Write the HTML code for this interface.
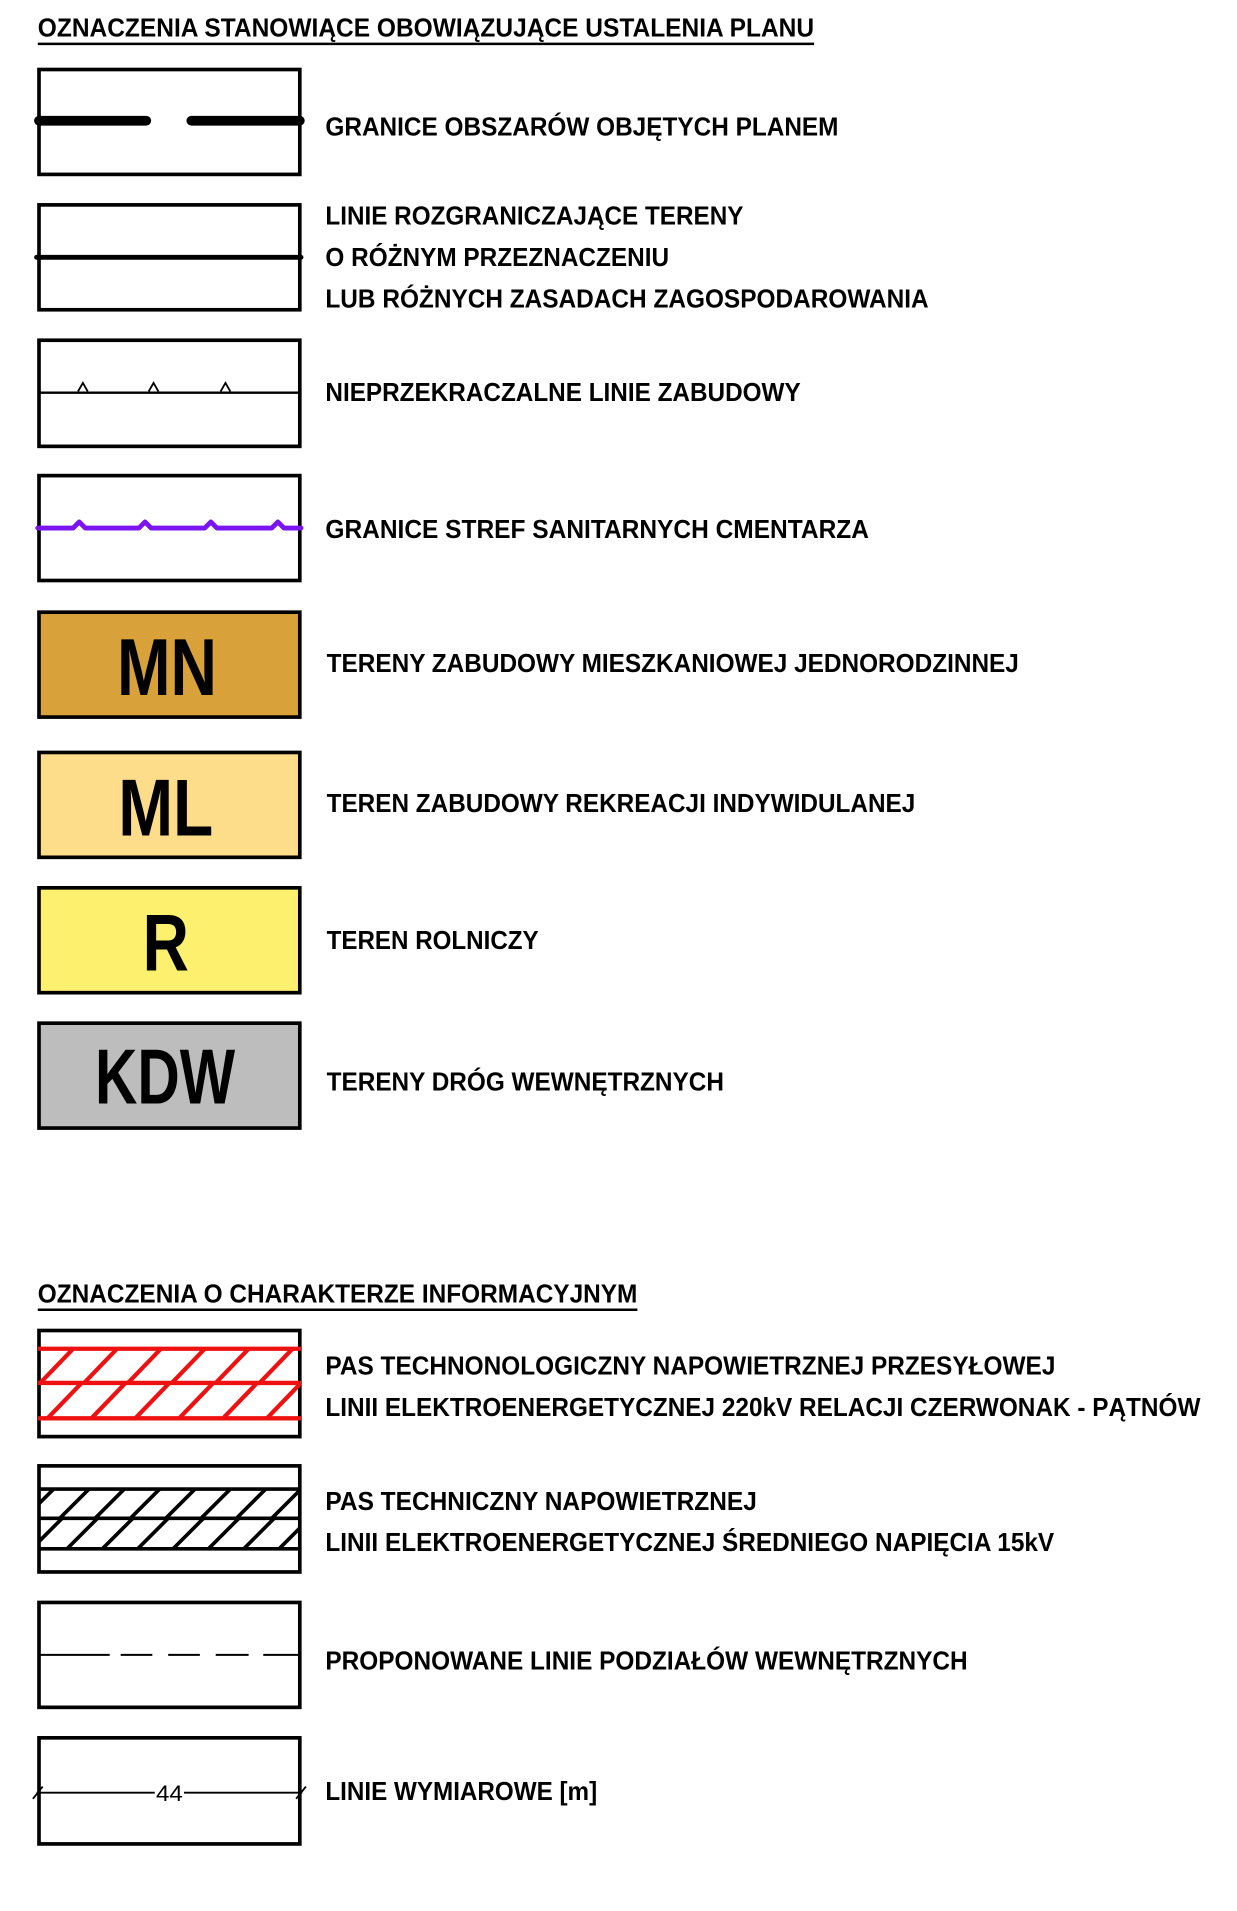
<!DOCTYPE html>
<html><head><meta charset="utf-8"><style>
html,body{margin:0;padding:0;background:#fff;}
svg{display:block;}
text{font-family:"Liberation Sans",sans-serif;font-weight:bold;fill:#000;}
</style></head><body>
<svg width="1237" height="1911" viewBox="0 0 1015 1567" preserveAspectRatio="none" xmlns="http://www.w3.org/2000/svg">
<defs>
<clipPath id="c1"><rect x="31" y="1091" width="216" height="87"/></clipPath>
<clipPath id="c2"><rect x="31" y="1202" width="216" height="87"/></clipPath>
</defs>
<g font-size="21">
<text x="31" y="30" textLength="637" lengthAdjust="spacingAndGlyphs">OZNACZENIA STANOWIĄCE OBOWIĄZUJĄCE USTALENIA PLANU</text>
<line x1="31" y1="36" x2="668" y2="36" stroke="#000" stroke-width="2"/>

<rect x="32" y="57" width="214" height="86" fill="#fff" stroke="#000" stroke-width="3"/>
<line x1="32" y1="99" x2="120" y2="99" stroke="#000" stroke-width="8" stroke-linecap="round"/>
<line x1="157" y1="99" x2="246" y2="99" stroke="#000" stroke-width="8" stroke-linecap="round"/>
<text x="267" y="111" textLength="421" lengthAdjust="spacingAndGlyphs">GRANICE OBSZARÓW OBJĘTYCH PLANEM</text>

<rect x="32" y="168" width="214" height="86" fill="#fff" stroke="#000" stroke-width="3"/>
<line x1="30" y1="211" x2="247" y2="211" stroke="#000" stroke-width="4" stroke-linecap="round"/>
<text x="267" y="184" textLength="343" lengthAdjust="spacingAndGlyphs">LINIE ROZGRANICZAJĄCE TERENY</text>
<text x="267" y="218" textLength="282" lengthAdjust="spacingAndGlyphs">O RÓŻNYM PRZEZNACZENIU</text>
<text x="267" y="252" textLength="495" lengthAdjust="spacingAndGlyphs">LUB RÓŻNYCH ZASADACH ZAGOSPODAROWANIA</text>

<rect x="32" y="279" width="214" height="87" fill="#fff" stroke="#000" stroke-width="3"/>
<line x1="32" y1="322" x2="246" y2="322" stroke="#000" stroke-width="2"/>
<path d="M64 321 L68 314 L72 321 M122 321 L126 314 L130 321 M181 321 L185 314 L189 321" fill="none" stroke="#000" stroke-width="1.5"/>
<text x="267" y="329" textLength="390" lengthAdjust="spacingAndGlyphs">NIEPRZEKRACZALNE LINIE ZABUDOWY</text>

<rect x="32" y="390" width="214" height="86" fill="#fff" stroke="#000" stroke-width="3"/>
<path d="M31 433 L60 433 L65 428 L70 433 L114 433 L119 428 L124 433 L168 433 L173 428 L178 433 L223 433 L228 428 L233 433 L247 433" fill="none" stroke="#7a14f0" stroke-width="4" stroke-linecap="round" stroke-linejoin="round"/>
<text x="267" y="441" textLength="446" lengthAdjust="spacingAndGlyphs">GRANICE STREF SANITARNYCH CMENTARZA</text>

<rect x="32" y="502" width="214" height="86" fill="#d9a13a" stroke="#000" stroke-width="3"/>
<text x="96" y="570" font-size="66" textLength="82" lengthAdjust="spacingAndGlyphs">MN</text>
<text x="268" y="551" textLength="568" lengthAdjust="spacingAndGlyphs">TERENY ZABUDOWY MIESZKANIOWEJ JEDNORODZINNEJ</text>

<rect x="32" y="617" width="214" height="86" fill="#fddc8a" stroke="#000" stroke-width="3"/>
<text x="97" y="685" font-size="66" textLength="78" lengthAdjust="spacingAndGlyphs">ML</text>
<text x="268" y="666" textLength="483" lengthAdjust="spacingAndGlyphs">TEREN ZABUDOWY REKREACJI INDYWIDULANEJ</text>

<rect x="32" y="728" width="214" height="86" fill="#fdf06e" stroke="#000" stroke-width="3"/>
<text x="117" y="796" font-size="66" textLength="38" lengthAdjust="spacingAndGlyphs">R</text>
<text x="268" y="778" textLength="174" lengthAdjust="spacingAndGlyphs">TEREN ROLNICZY</text>

<rect x="32" y="839" width="214" height="86" fill="#bdbdbd" stroke="#000" stroke-width="3"/>
<text x="78" y="905" font-size="64" textLength="115" lengthAdjust="spacingAndGlyphs">KDW</text>
<text x="268" y="894" textLength="326" lengthAdjust="spacingAndGlyphs">TERENY DRÓG WEWNĘTRZNYCH</text>

<text x="31" y="1068" textLength="492" lengthAdjust="spacingAndGlyphs">OZNACZENIA O CHARAKTERZE INFORMACYJNYM</text>
<line x1="31" y1="1074" x2="523" y2="1074" stroke="#000" stroke-width="2"/>

<rect x="32" y="1091" width="214" height="87" fill="#fff" stroke="#000" stroke-width="3"/>
<g clip-path="url(#c1)" stroke="#ee1111" stroke-width="3.5" fill="none">
<line x1="31" y1="1106" x2="247" y2="1106"/>
<line x1="31" y1="1134" x2="247" y2="1134"/>
<line x1="31" y1="1163" x2="247" y2="1163"/>
<path d="M33 1134 L60 1106 M69 1134 L96 1106 M105 1134 L132 1106 M141 1134 L168 1106 M177 1134 L204 1106 M213 1134 L240 1106
M39 1163 L67 1134 M75 1163 L103 1134 M111 1163 L139 1134 M147 1163 L175 1134 M183 1163 L211 1134 M219 1163 L247 1134"/>
</g>
<text x="267" y="1127" textLength="599" lengthAdjust="spacingAndGlyphs">PAS TECHNONOLOGICZNY NAPOWIETRZNEJ PRZESYŁOWEJ</text>
<text x="267" y="1161" textLength="718" lengthAdjust="spacingAndGlyphs">LINII ELEKTROENERGETYCZNEJ 220kV RELACJI CZERWONAK - PĄTNÓW</text>

<rect x="32" y="1202" width="214" height="87" fill="#fff" stroke="#000" stroke-width="3"/>
<g clip-path="url(#c2)" stroke="#000" stroke-width="3" fill="none">
<line x1="31" y1="1221" x2="247" y2="1221"/>
<line x1="31" y1="1245" x2="247" y2="1245"/>
<line x1="31" y1="1270" x2="247" y2="1270"/>
<path d="M20 1245 L44 1221 M49 1245 L73 1221 M78 1245 L102 1221 M107 1245 L131 1221 M136 1245 L160 1221 M165 1245 L189 1221 M194 1245 L218 1221 M223 1245 L247 1221
M26 1270 L51 1245 M55 1270 L80 1245 M84 1270 L109 1245 M113 1270 L138 1245 M142 1270 L167 1245 M171 1270 L196 1245 M200 1270 L225 1245 M229 1270 L254 1245"/>
</g>
<text x="267" y="1238" textLength="354" lengthAdjust="spacingAndGlyphs">PAS TECHNICZNY NAPOWIETRZNEJ</text>
<text x="267" y="1272" textLength="598" lengthAdjust="spacingAndGlyphs">LINII ELEKTROENERGETYCZNEJ ŚREDNIEGO NAPIĘCIA 15kV</text>

<rect x="32" y="1314" width="214" height="86" fill="#fff" stroke="#000" stroke-width="3"/>
<path d="M32 1357 L90 1357 M99 1357 L125 1357 M138 1357 L164 1357 M177 1357 L204 1357 M216 1357 L246 1357" stroke="#000" stroke-width="1.6"/>
<text x="267" y="1369" textLength="527" lengthAdjust="spacingAndGlyphs">PROPONOWANE LINIE PODZIAŁÓW WEWNĘTRZNYCH</text>

<rect x="32" y="1425" width="214" height="87" fill="#fff" stroke="#000" stroke-width="3"/>
<line x1="30" y1="1470" x2="127" y2="1470" stroke="#000" stroke-width="1.5"/>
<line x1="151" y1="1470" x2="248" y2="1470" stroke="#000" stroke-width="1.5"/>
<line x1="27" y1="1475" x2="35" y2="1465" stroke="#000" stroke-width="1.5"/>
<line x1="243" y1="1475" x2="251" y2="1465" stroke="#000" stroke-width="1.5"/>
<text x="128" y="1477" font-size="18" style="font-weight:normal" textLength="22" lengthAdjust="spacingAndGlyphs">44</text>
<text x="267" y="1476" textLength="223" lengthAdjust="spacingAndGlyphs">LINIE WYMIAROWE [m]</text>
</g>
</svg>
</body></html>
